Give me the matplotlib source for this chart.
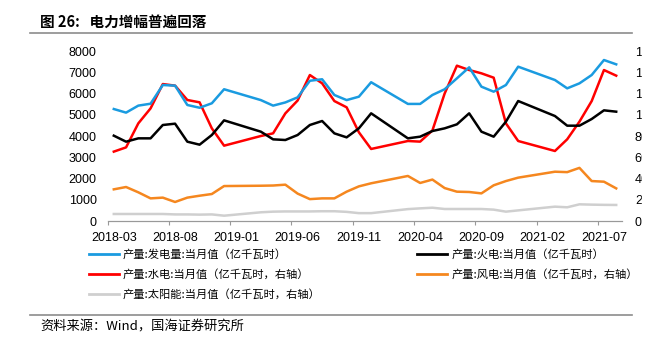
import matplotlib
matplotlib.use('Agg')
import matplotlib.pyplot as plt
from matplotlib.lines import Line2D
from matplotlib.patches import Rectangle
import pandas as pd

plt.rcParams['font.family'] = ['Liberation Sans', 'Noto Sans CJK SC', 'DejaVu Sans']
CJK = ['Noto Sans CJK SC', 'DejaVu Sans']

# monthly data, Jan/Feb not reported separately
months = (
    ["2018-%02d" % m for m in range(3, 13)]
    + ["2019-%02d" % m for m in range(3, 13)]
    + ["2020-%02d" % m for m in range(3, 13)]
    + ["2021-%02d" % m for m in range(3, 9)]
)

# left axis (亿千瓦时)
total = [5270, 5100, 5430, 5520, 6400, 6370, 5460, 5330, 5540, 6200,
         5690, 5430, 5580, 5820, 6600, 6670, 5930, 5690, 5850, 6530,
         5510, 5510, 5930, 6200, 6714, 7231, 6322, 6086, 6400, 7263,
         6635, 6243, 6478, 6871, 7576, 7373]
thermal = [4016, 3733, 3890, 3890, 4518, 4580, 3733, 3592, 4047, 4737,
           4204, 3843, 3812, 4047, 4518, 4706, 4125, 3937, 4361, 5067,
           3890, 3969, 4235, 4361, 4549, 5067, 4204, 3969, 4675, 5647,
           4941, 4486, 4486, 4800, 5208, 5145]
# right axis (亿千瓦时)
hydro = [653, 693, 919, 1060, 1289, 1274, 1139, 1117, 872, 709,
         800, 825, 1013, 1134, 1374, 1296, 1129, 1070, 835, 678,
         753, 747, 852, 1200, 1462, 1421, 1390, 1349, 919, 753,
         659, 769, 935, 1129, 1421, 1368]
wind = [298, 320, 270, 213, 220, 179, 220, 238, 254, 329,
        332, 334, 342, 258, 206, 213, 213, 276, 326, 355,
        424, 358, 390, 310, 276, 273, 260, 336, 376, 408,
        464, 460, 500, 376, 370, 307]
solar = [66, 66, 66, 66, 66, 62, 62, 60, 62, 50,
         82, 88, 90, 90, 90, 92, 92, 86, 74, 74,
         112, 119, 125, 113, 113, 113, 113, 107, 88, 100,
         135, 129, 157, 154, 152, 151]

tick_labels = ["2018-03", "2018-08", "2019-01", "2019-06", "2019-11",
               "2020-04", "2020-09", "2021-02", "2021-07"]

start = pd.Period("2018-03", freq="M")
end = pd.Period("2021-08", freq="M")
def pos(m):
    return (pd.Period(m, freq="M") - start).n + 0.5

x = [pos(m) for m in months]
tick_pos = [pos(t) - 0.5 for t in tick_labels]
n_slots = (end - start).n + 1

c_blue, c_black, c_red, c_orange, c_gray = '#1a9be0', '#000000', '#ff0000', '#f5871f', '#cfcfcf'
lw = 1.8

fig = plt.figure(figsize=(6.61, 3.47), dpi=100)
ax = fig.add_axes([0.1629, 0.3631, 0.7786, 0.4899])
ax2 = ax.twinx()

ax.plot(x, total, color=c_blue, lw=lw)
ax.plot(x, thermal, color=c_black, lw=lw)
ax2.plot(x, solar, color=c_gray, lw=lw)
ax2.plot(x, wind, color=c_orange, lw=lw)
ax2.plot(x, hydro, color=c_red, lw=lw)
ax.set_zorder(ax2.get_zorder() + 1)
ax.patch.set_visible(False)

ax.set_xlim(0, n_slots)
ax.set_ylim(0, 8000)
ax2.set_ylim(0, 1600)
ax.set_yticks(range(0, 8001, 1000))
ax2.set_yticks(range(0, 1601, 200))

ax.set_xticks(tick_pos)
ax.set_xticklabels([])
ax.set_xticks([p + 0.5 for p in tick_pos], minor=True)
ax.set_xticklabels(tick_labels, minor=True)
ax.tick_params(axis='x', which='major', length=3, color='#999999', width=0.8, direction='out')
ax.tick_params(axis='x', which='minor', length=0, pad=8, labelsize=9)
ax.tick_params(axis='y', length=0, pad=8, labelsize=9)
ax2.tick_params(axis='y', length=0, pad=9, labelsize=9)

for a in (ax, ax2):
    for s in ('top', 'left', 'right'):
        a.spines[s].set_visible(False)
    a.spines['bottom'].set_color('#999999')
    a.spines['bottom'].set_linewidth(0.8)

handles = [
    Line2D([], [], color=c_blue, lw=2),
    Line2D([], [], color=c_red, lw=2),
    Line2D([], [], color=c_gray, lw=2),
    Line2D([], [], color=c_black, lw=2),
    Line2D([], [], color=c_orange, lw=2),
]
labels = [
    "产量:发电量:当月值（亿千瓦时）",
    "产量:水电:当月值（亿千瓦时，右轴）",
    "产量:太阳能:当月值（亿千瓦时，右轴）",
    "产量:火电:当月值（亿千瓦时）",
    "产量:风电:当月值（亿千瓦时，右轴）",
]
fig.legend(handles, labels, loc='upper left', bbox_to_anchor=(0.134, 0.2815),
           ncol=2, frameon=False, prop={'family': CJK, 'size': 8.1},
           handlelength=2.67, handletextpad=0.36, columnspacing=8.6,
           labelspacing=0.8, borderpad=0, borderaxespad=0)

fig.text(40 / 661, 1 - 23 / 347, "图 26:   电力增幅普遍回落", family=CJK,
         fontsize=10.5, fontweight='bold', va='center', ha='left')
fig.add_artist(Line2D([30 / 661, 632 / 661], [1 - 33 / 347] * 2, color='#8c8c8c', lw=1.2))
fig.add_artist(Line2D([30 / 661, 632 / 661], [1 - 315 / 347] * 2, color='#8c8c8c', lw=1.2))
fig.text(40 / 661, 1 - 327 / 347, "资料来源：Wind，国海证券研究所", family=CJK,
         fontsize=9.5, va='center', ha='left')

# reference picture is cut off at the right edge
fig.add_artist(Rectangle((642 / 661, 0), 1, 1, transform=fig.transFigure,
                         color='white', zorder=10))

fig.savefig('out.png', dpi=100)
